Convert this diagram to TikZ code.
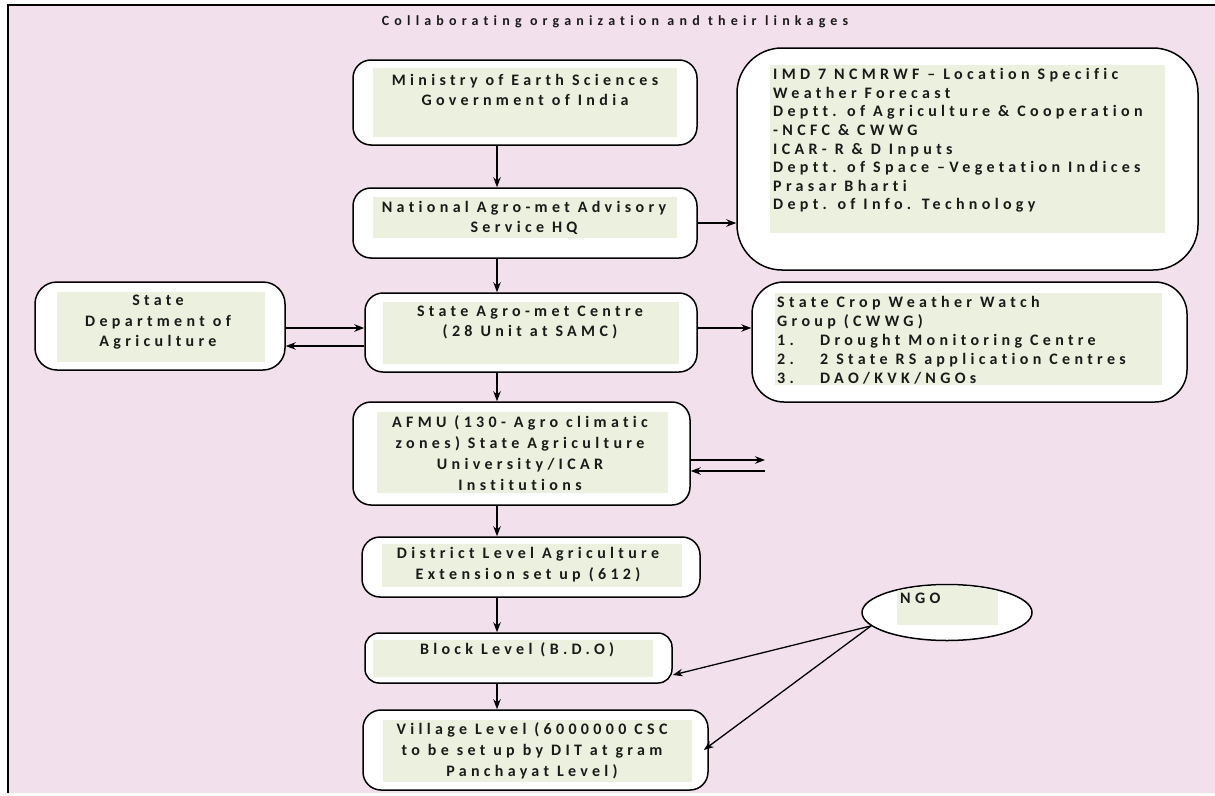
\documentclass[tikz,border=0pt]{standalone}
\usepackage{fontspec}
\setmainfont{Carlito}
\newfontfamily\bodyf{Carlito}[LetterSpace=27, Ligatures=NoCommon]
\newfontfamily\titlef{Carlito}[LetterSpace=37, Ligatures=NoCommon]
\usetikzlibrary{arrows.meta,calc,shapes.geometric}
\definecolor{pinkbg}{HTML}{F2E1EC}
\definecolor{greenfill}{HTML}{EBF1DE}
\definecolor{textc}{HTML}{1A1A1A}
\begin{document}
\begin{tikzpicture}[x=1pt,y=-1pt,
  box/.style={draw=black, line width=1.5pt, fill=white, rounded corners=18pt, inner sep=0pt},
  greenr/.style={fill=greenfill, draw=none, inner sep=0pt},
  txt/.style={text=textc, inner sep=0pt, align=center, font=\bodyf\bfseries\fontsize{16}{20.5}\selectfont},
  ltxt/.style={text=textc, inner sep=0pt, align=left, anchor=west, font=\bodyf\bfseries\fontsize{16}{18.6}\selectfont},
  arr/.style={-{Stealth[length=10pt,width=7.5pt]}, line width=1.3pt}]
\useasboundingbox (0,0) rectangle (1215,795);
\fill[white] (0,0) rectangle (1215,795);
\fill[pinkbg] (8,5) rectangle (1215,793);
\draw[line width=1.8pt] (8,793) -- (8,5) -- (1215,5);
\node[text=textc, inner sep=0pt, font=\titlef\bfseries\fontsize{14}{16}\selectfont] (title) at (615,22) {Collaborating organization and their linkages};
% center column boxes
\node[box, minimum width=344, minimum height=85] (min) at (525,102.5) {};
\node[greenr, minimum width=304, minimum height=69] (ming) at (525,102.5) {};
\node[txt] (mint) at (525,90) {Ministry of Earth Sciences\\Government of India};
\node[box, minimum width=344, minimum height=70] (naas) at (525,223) {};
\node[greenr, minimum width=304, minimum height=41] (naasg) at (525,217.5) {};
\node[txt] (naast) at (524,218) {National Agro-met Advisory\\Service HQ};
\node[box, minimum width=332, minimum height=79] (samc) at (531,332.5) {};
\node[greenr, minimum width=296, minimum height=62] (samcg) at (531,333) {};
\node[txt] (samct) at (530,322.5) {State Agro-met Centre\\(28 Unit at SAMC)};
\node[box, minimum width=337, minimum height=103] (afmu) at (521.5,453.5) {};
\node[greenr, minimum width=291, minimum height=81] (afmug) at (522.5,452.5) {};
\node[txt, font=\bodyf\bfseries\fontsize{16}{21}\selectfont] (afmut) at (520,453.5) {AFMU (130- Agro climatic\\zones) State Agriculture\\University/ICAR\\Institutions};
\node[box, minimum width=338, minimum height=60] (dist) at (531,567) {};
\node[greenr, minimum width=300, minimum height=43] (distg) at (532,565.5) {};
\node[txt, font=\bodyf\bfseries\fontsize{16}{21}\selectfont] (distt) at (528,564.5) {District Level Agriculture\\Extension set up (612)};
\node[box, minimum width=307, minimum height=50, rounded corners=14pt] (block) at (518.5,658) {};
\node[greenr, minimum width=280, minimum height=37] (blockg) at (513,658.5) {};
\node[txt] (blockt) at (517,650) {Block Level (B.D.O)};
\node[box, minimum width=345, minimum height=80] (village) at (535.5,750) {};
\node[greenr, minimum width=309, minimum height=62] (villageg) at (537.5,751) {};
\node[txt, font=\bodyf\bfseries\fontsize{16}{21}\selectfont] (villaget) at (532,751) {Village Level (6000000 CSC\\to be set up by DIT at gram\\Panchayat Level)};
% left box
\node[box, minimum width=250, minimum height=88, rounded corners=22pt] (sda) at (160,326) {};
\node[greenr, minimum width=208, minimum height=70] (sdag) at (161,327) {};
\node[txt] (sdat) at (158,322.5) {State\\Department of\\Agriculture};
% right boxes
\node[box, minimum width=461, minimum height=222, rounded corners=45pt] (big) at (967.5,159) {};
\node[greenr, minimum width=395, minimum height=168] (bigg) at (967.5,149) {};
\node[ltxt] (bigt) at (773,140.5) {IMD 7 NCMRWF – Location Specific\\Weather Forecast\\Deptt. of Agriculture \& Cooperation\\-NCFC \& CWWG\\ICAR- R \& D Inputs\\Deptt. of Space –Vegetation Indices\\Prasar Bharti\\Dept. of Info. Technology};
\node[box, minimum width=435, minimum height=120, rounded corners=32pt] (cwwg) at (969.5,342) {};
\node[greenr, minimum width=387, minimum height=92] (cwwgg) at (968.5,339) {};
\node[ltxt, font=\bodyf\bfseries\fontsize{16}{19}\selectfont] (cwwgt) at (777,340) {State Crop Weather Watch\\Group (CWWG)\\\makebox[43pt][l]{1.}Drought Monitoring Centre\\\makebox[43pt][l]{2.}2 State RS application Centres\\\makebox[43pt][l]{3.}DAO/KVK/NGOs};
% NGO ellipse
\node[draw=black, line width=1.5pt, fill=white, ellipse, minimum width=170, minimum height=56, inner sep=0pt] (ngo) at (947,612.5) {};
\begin{scope}
\clip (947,612.5) ellipse [x radius=84, y radius=27];
\node[greenr, minimum width=101, minimum height=40] (ngog) at (947.5,605) {};
\end{scope}
\node[text=textc, inner sep=0pt, anchor=west, font=\bodyf\bfseries\fontsize{16}{16}\selectfont] (ngot) at (900,598) {NGO};
% connectors
\coordinate (col) at (497,0);
\draw[arr] (min.south -| col) -- (naas.north -| col);
\draw[arr] (naas.south -| col) -- (samc.north -| col);
\draw[arr] (samc.south -| col) -- (afmu.north -| col);
\draw[arr] (afmu.south -| col) -- (dist.north -| col);
\draw[arr] (dist.south -| col) -- (block.north -| col);
\draw[arr] (block.south -| col) -- (village.north -| col);
\draw[arr] (naas.east) -- (naas.east -| big.west);
\coordinate (hA) at (0,328);
\coordinate (hB) at (0,346);
\draw[arr] (sda.east |- hA) -- (samc.west |- hA);
\draw[arr] (samc.west |- hB) -- (sda.east |- hB);
\draw[arr] (samc.east |- hA) -- (cwwg.west |- hA);
\coordinate (afA) at (765,460);
\coordinate (afB) at (765,471);
\draw[arr] (afmu.east |- afA) -- (afA);
\draw[arr] (afB) -- (afmu.east |- afB);
\draw[arr] (ngo.190) -- ([yshift=-17pt]block.east);
\draw[arr] (ngo.190) -- ([xshift=-5pt]village.east);
\end{tikzpicture}
\end{document}
